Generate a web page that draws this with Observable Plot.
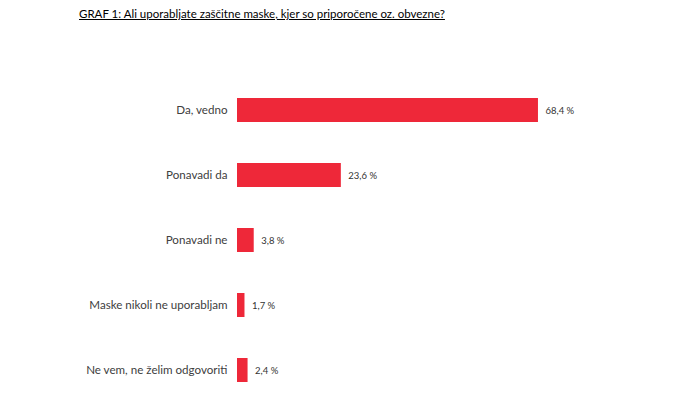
<!DOCTYPE html>
<html><head><meta charset="utf-8">
<script src="https://cdn.jsdelivr.net/npm/d3@7"></script>
<script src="https://cdn.jsdelivr.net/npm/@observablehq/plot@0.6"></script>
<style>
body{margin:0;background:#fff;font-family:Lato,"Open Sans",sans-serif;}
#title{position:absolute;left:79px;top:7px;font-size:11.5px;color:#000;text-decoration:underline;white-space:nowrap;}
#chart{position:absolute;left:0;top:28px;}
</style></head><body>
<div id="title">GRAF 1: Ali uporabljate zaščitne maske, kjer so priporočene oz. obvezne?</div>
<div id="chart"></div>
<script>
const categories = ["Da, vedno","Ponavadi da","Ponavadi ne","Maske nikoli ne uporabljam","Ne vem, ne želim odgovoriti"];
const values = [68.4, 23.6, 3.8, 1.7, 2.4];
const data = categories.map((c,i)=>({c, v: values[i]}));
const fmt = v => v.toFixed(1).replace(".", ",") + " %";
const plot = Plot.plot({
  width: 680, height: 375,
  marginLeft: 237, marginRight: 3, marginTop: 56, marginBottom: 8,
  style: {fontFamily: "Lato, 'Open Sans', sans-serif", background: "#fff"},
  x: {domain: [0, 100], axis: null},
  y: {domain: categories, paddingInner: 0.632, paddingOuter: 0.2, label: null},
  marks: [
    Plot.barX(data, {x: "v", y: "c", fill: "#EE2839"}),
    Plot.text(data, {x: "v", y: "c", text: d => fmt(d.v), textAnchor: "start", dx: 7, fontSize: 9.5, fill: "#333"}),
    Plot.axisY({tickSize: 0, tickPadding: 10, fontSize: 11.6, color: "#404040", label: null})
  ]
});
document.getElementById("chart").appendChild(plot);
</script></body></html>
